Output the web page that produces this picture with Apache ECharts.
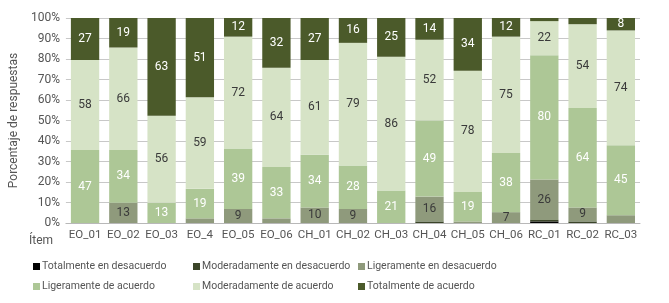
<!DOCTYPE html>
<html>
<head>
<meta charset="utf-8">
<script src="https://cdn.jsdelivr.net/npm/echarts@6/dist/echarts.min.js"></script>
<style>
html, body { margin: 0; padding: 0; background: #fff; }
#chartmain { width: 669px; height: 303px; }
</style>
</head>
<body>
<div id="chartmain"></div>
<script>
// categorías (ítems)
var categorias = ['EO_01', 'EO_02', 'EO_03', 'EO_4', 'EO_05', 'EO_06', 'CH_01', 'CH_02', 'CH_03', 'CH_04', 'CH_05', 'CH_06', 'RC_01', 'RC_02', 'RC_03'];
// número de respuestas por nivel
var totDesacuerdo = [0, 0, 0, 0, 0, 0, 0, 0, 0, 0, 0, 0, 1, 0, 0];
var modDesacuerdo = [0, 0, 0, 0, 0, 0, 0, 0, 0, 1, 0, 0, 1, 1, 0];
var ligDesacuerdo = [0, 13, 0, 3, 9, 3, 10, 9, 0, 16, 1, 7, 26, 9, 5];
var ligAcuerdo = [47, 34, 13, 19, 39, 33, 34, 28, 21, 49, 19, 38, 80, 64, 45];
var modAcuerdo = [58, 66, 56, 59, 72, 64, 61, 79, 86, 52, 78, 75, 22, 54, 74];
var totAcuerdo = [27, 19, 63, 51, 12, 32, 27, 16, 25, 14, 34, 12, 2, 4, 8];
var yTicks = [0, 10, 20, 30, 40, 50, 60, 70, 80, 90, 100];

var niveles = [
    {name: 'Totalmente en desacuerdo', data: totDesacuerdo, color: '#000000', text: '#ffffff'},
    {name: 'Moderadamente en desacuerdo', data: modDesacuerdo, color: '#3b4529', text: '#ffffff'},
    {name: 'Ligeramente en desacuerdo', data: ligDesacuerdo, color: '#8f9a7c', text: '#3a3a3a'},
    {name: 'Ligeramente de acuerdo', data: ligAcuerdo, color: '#adc796', text: '#ffffff'},
    {name: 'Moderadamente de acuerdo', data: modAcuerdo, color: '#d6e3c6', text: '#3a3a3a'},
    {name: 'Totalmente de acuerdo', data: totAcuerdo, color: '#4b5a2a', text: '#ffffff'}
];

// totales por ítem
var totales = categorias.map(function (c, i) {
    var s = 0;
    niveles.forEach(function (n) { s += n.data[i]; });
    return s;
});

var fuente = 'Roboto, "Liberation Sans", sans-serif';

var series = niveles.map(function (n) {
    return {
        name: n.name,
        type: 'bar',
        stack: 'total',
        barCategoryGap: '26%',
        itemStyle: {color: n.color},
        label: {
            show: true,
            color: n.text,
            fontFamily: fuente,
            fontSize: 12,
            formatter: function (p) {
                var v = n.data[p.dataIndex];
                return v >= 6 ? String(v) : '';
            }
        },
        data: n.data.map(function (v, i) { return v / totales[i] * 100; })
    };
});

// leyenda en 3 columnas y 2 filas
var colX = [28, 188, 353];
var filaY = [256, 276];
var leyendas = niveles.map(function (n, k) {
    return {
        data: [n.name],
        left: colX[k % 3],
        top: filaY[Math.floor(k / 3)],
        itemWidth: 7,
        itemHeight: 7,
        itemGap: 2,
        icon: 'rect',
        selectedMode: false,
        textStyle: {color: '#555', fontFamily: fuente, fontSize: 10.5, padding: [0, 0, 0, -3]}
    };
});

var pie = echarts.init(document.getElementById('chartmain'));
option = {
    animation: false,
    legend: leyendas,
    grid: {left: 50, right: 29, top: 18, bottom: 80},
    xAxis: {
        type: 'category',
        data: categorias,
        axisTick: {show: false},
        axisLine: {lineStyle: {color: '#b8b8b8'}},
        axisLabel: {color: '#555', fontFamily: fuente, fontSize: 11.5, margin: 6, interval: 0}
    },
    yAxis: {
        type: 'value',
        min: yTicks[0],
        max: yTicks[yTicks.length - 1],
        interval: yTicks[1] - yTicks[0],
        name: 'Porcentaje de respuestas',
        nameLocation: 'middle',
        nameGap: 40,
        nameTextStyle: {color: '#555', fontFamily: fuente, fontSize: 12},
        axisLine: {show: false},
        axisTick: {show: false},
        axisLabel: {color: '#555', fontFamily: fuente, fontSize: 12, margin: 6, formatter: '{value}%'},
        splitLine: {lineStyle: {color: '#c8c8c8'}}
    },
    graphic: [{
        type: 'text',
        left: 29,
        top: 235,
        style: {text: 'Ítem', fill: '#555', font: '12px ' + fuente}
    }],
    series: series
};
pie.setOption(option);
</script>
</body>
</html>
